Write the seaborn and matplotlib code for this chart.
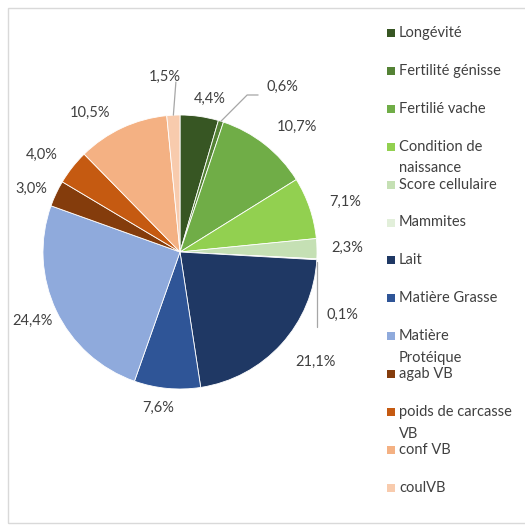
import numpy as np
import matplotlib
matplotlib.use("Agg")
import matplotlib.pyplot as plt
from matplotlib.patches import Rectangle
from matplotlib.lines import Line2D
import seaborn as sns

# Share of each trait in the index (%)
categories = [
    "Longévité", "Fertilité génisse", "Fertilié vache", "Condition de\nnaissance",
    "Score cellulaire", "Mammites", "Lait", "Matière Grasse", "Matière\nProtéique",
    "agab VB", "poids de carcasse\nVB", "conf VB", "coulVB",
]
values = [4.4, 0.6, 10.7, 7.1, 2.3, 0.1, 21.1, 7.6, 24.4, 3.0, 4.0, 10.5, 1.5]
value_labels = ["4,4%", "0,6%", "10,7%", "7,1%", "2,3%", "0,1%", "21,1%",
                "7,6%", "24,4%", "3,0%", "4,0%", "10,5%", "1,5%"]

colors = ["#375623", "#548235", "#70AD47", "#92D050", "#C5E0B4", "#E2EFDA",
          "#1F3864", "#2F5597", "#8FAADC", "#843C0C", "#C55A11", "#F4B183", "#F8CBAD"]

# label placement: angular shift (deg, clockwise) from slice middle, and radius
label_shift = [2.9, 14.3, 4.7, 1.8, 0.0, 18.0, -3.3, 2.6, 0.4, -2.3, -3.2, -8.0, -2.2]
label_radius = [1.14, 1.42, 1.25, 1.26, 1.22, 1.27, 1.27, 1.15, 1.19, 1.18, 1.23, 1.21, 1.28]

sns.set_theme(style="white")
plt.rcParams["font.family"] = ["Lato", "DejaVu Sans"]

W = H = 525
fig = plt.figure(figsize=(5.25, 5.25), dpi=100)
fig.patch.set_facecolor("white")

def fx(x):
    return x / W

def fy(y):
    return 1 - y / H

# outer chart frame
fig.patches.append(Rectangle((fx(8), fy(523)), 1.2, fy(8) - fy(523),
                             transform=fig.transFigure, fill=False,
                             edgecolor="#D9D9D9", linewidth=1.0, zorder=0))

cx, cy, R = 180, 252, 137
ax = fig.add_axes([fx(cx - R), fy(cy + R), 2 * R / W, 2 * R / H])

wedges, _ = ax.pie(values, colors=colors, startangle=90, counterclock=False,
                   radius=1.0, wedgeprops=dict(edgecolor="white", linewidth=0.6))
ax.set_xlim(-1, 1)
ax.set_ylim(-1, 1)
ax.set_aspect("equal")
ax.axis("off")

text_color = "#404040"
for w, lab, sh, r in zip(wedges, value_labels, label_shift, label_radius):
    mid = np.deg2rad((w.theta1 + w.theta2) / 2 - sh)
    ax.text(r * np.cos(mid), r * np.sin(mid), lab, ha="center", va="center",
            fontsize=10.5, color=text_color, clip_on=False)

# leader lines for the thin slices
lead_color = "#A6A6A6"
def edge_point(w):
    a = np.deg2rad((w.theta1 + w.theta2) / 2)
    return np.cos(a), np.sin(a)

x0, y0 = edge_point(wedges[1])
ax.add_line(Line2D([x0, 0.49, 0.57], [y0, 1.146, 1.146], color=lead_color,
                   linewidth=0.9, clip_on=False))
x0, y0 = edge_point(wedges[5])
ax.add_line(Line2D([x0, x0], [y0 - 0.02, -0.55], color=lead_color,
                   linewidth=0.9, clip_on=False))
x0, y0 = edge_point(wedges[12])
ax.add_line(Line2D([x0, -0.03], [y0, 1.24], color=lead_color,
                   linewidth=0.9, clip_on=False))

# legend, one slot per category
slot0, slot_step, line_step = 33, 37.9, 21.5
for i, (name, col) in enumerate(zip(categories, colors)):
    y = slot0 + i * slot_step
    fig.patches.append(Rectangle((fx(387), fy(y + 4)), 8 / W, 8 / H,
                                 transform=fig.transFigure, facecolor=col,
                                 edgecolor="none"))
    for k, line in enumerate(name.split("\n")):
        fig.text(fx(399), fy(y + k * line_step), line, ha="left", va="center",
                 fontsize=10.5, color=text_color)

fig.savefig("out.png", dpi=100, facecolor="white")
